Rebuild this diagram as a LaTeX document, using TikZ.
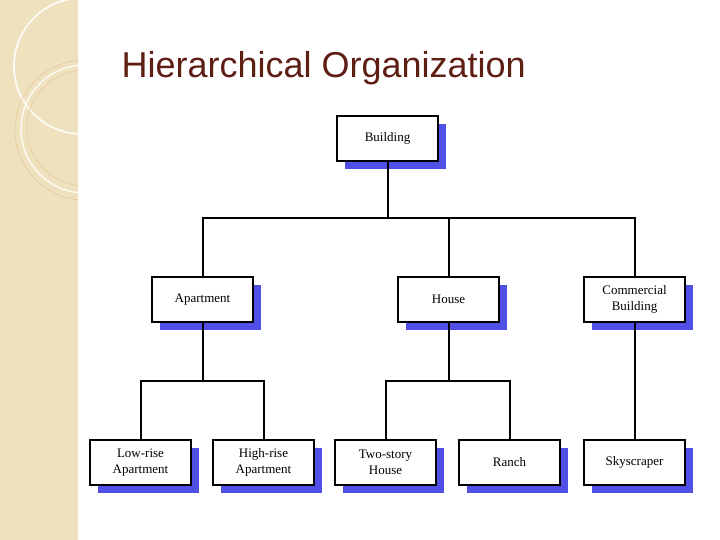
\documentclass[tikz,border=0pt]{standalone}
\usepackage{fontspec}
\setmainfont{Liberation Serif}
\newfontfamily\titlefont{Liberation Sans}
\definecolor{strip}{RGB}{240,225,190}
\definecolor{shadowblue}{RGB}{80,80,230}
\definecolor{titlecol}{RGB}{95,30,20}
\begin{document}
\begin{tikzpicture}[x=1pt,y=-1pt,
  box/.style={draw=black,line width=2pt,fill=white,minimum width=101pt,minimum height=45pt,inner sep=1pt,align=center,font=\fontsize{13}{16}\selectfont},
  wire/.style={line width=2pt}]
\useasboundingbox (0,0) rectangle (720,540);
\fill[strip] (0,0) rectangle (78,540);
\begin{scope}
\clip (0,0) rectangle (78,540);
\draw[white,line width=1.8pt,opacity=0.85] (82,66) circle (68);
\draw[strip!75!brown,line width=0.6pt] (85,130) circle (70);
\draw[strip!75!brown,line width=0.6pt] (85,128) circle (58);
\draw[white,line width=1.5pt,opacity=0.8] (85,129) circle (64);
\end{scope}
\node[anchor=west,font=\titlefont\fontsize{36}{40}\selectfont,text=titlecol] (title) at (118,68) {Hierarchical Organization};
\newcommand{\bx}[4]{\fill[shadowblue] (#2+8,#3+8) rectangle +(101,45);
  \node[box] (#1) at (#2+50.5,#3+22.5) {#4};}
\bx{b}{337}{116}{Building}
\bx{a}{152}{277}{Apartment}
\bx{h}{398}{277}{House}
\bx{c}{584}{277}{Commercial\\Building}
\bx{l}{90}{440}{Low-rise\\Apartment}
\bx{hr}{213}{440}{High-rise\\Apartment}
\bx{t}{335}{440}{Two-story\\House}
\bx{r}{459}{440}{Ranch}
\bx{s}{584}{440}{Skyscraper}
\coordinate (j1) at (b.south |- 0,218);
\draw[wire] (b.south) -- (j1);
\draw[wire] (a.north) |- (j1) -| (c.north);
\draw[wire] (h.north) -- (h.north |- j1);
\coordinate (j2) at (a.south |- 0,381);
\draw[wire] (a.south) -- (j2);
\draw[wire] (l.north) |- (j2) -| (hr.north);
\coordinate (j3) at (h.south |- 0,381);
\draw[wire] (h.south) -- (j3);
\draw[wire] (t.north) |- (j3) -| (r.north);
\draw[wire] (c.south) -- (s.north);
\end{tikzpicture}
\end{document}
